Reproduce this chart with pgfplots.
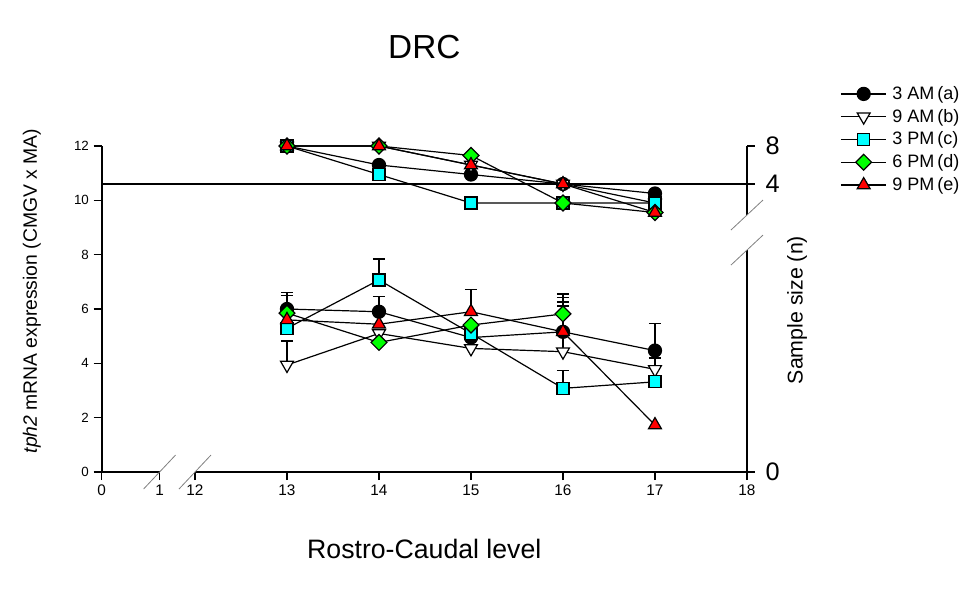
\documentclass[border=0pt]{standalone}
\usepackage{fontspec}
\setmainfont{Liberation Sans}
\usepackage{pgfplots}
\usepackage{pgfplotstable}
\pgfplotsset{compat=1.18}

\definecolor{pmCyan}{RGB}{0,255,255}
\definecolor{sixGreen}{RGB}{0,255,0}
\definecolor{nineRed}{RGB}{255,0,0}

% mean tph2 expression (left axis) and upward SEM
\pgfplotstableread{
x  a    ae   b    be   c    ce   d    de   e    ee
13 6.00 0.60 3.94 0.88 5.29 0    5.85 0.66 5.60 0.90
14 5.90 0.55 5.10 0    7.07 0.77 4.77 0    5.44 0
15 4.95 0    4.55 0    5.10 0    5.41 0    5.90 0.82
16 5.16 1.10 4.43 1.68 3.08 0.67 5.82 0.73 5.16 1.27
17 4.47 1.00 3.78 0.42 3.32 0    nan  0    1.73 0
}\means

% sample size n (right axis)
\pgfplotstableread{
x  a b c d e
13 8 8 8 8 8
14 6 8 5 8 8
15 5 6 2 7 6
16 4 4 2 2 4
17 3 2 2 1 1
}\nsize

\pgfplotsset{
  ser/.style={black,line width=0.9pt,mark options={solid,draw=black,line width=0.7pt}},
  sA/.style={ser,mark=*,mark size=4.9pt,mark options={fill=black}},
  sB/.style={ser,mark=triangle*,mark size=5.6pt,mark options={fill=white,rotate=180}},
  sC/.style={ser,mark=square*,mark size=4.5pt,mark options={fill=pmCyan}},
  sD/.style={ser,mark=square*,mark size=4.2pt,mark options={fill=sixGreen,rotate=45}},
  sE/.style={ser,mark=triangle*,mark size=5.6pt,mark options={fill=nineRed}},
  ebar/.style={only marks,mark=none,forget plot,
    error bars/.cd,y dir=plus,y explicit,
    error bar style={black,line width=0.9pt,solid},
    error mark options={black,mark size=4.5pt,line width=0.9pt,rotate=90}},
}

\begin{document}
\begin{tikzpicture}
\begin{axis}[name=main,scale only axis,width=484pt,height=244.5pt,
  xmin=10.985,xmax=18,ymin=0,ymax=12,clip=false,
  axis x line*=bottom,axis y line*=left,axis line style={draw=none},
  xtick={10.985,11.615,12,13,14,15,16,17,18},
  xticklabels={0,1,12,13,14,15,16,17,18},
  ytick={0,2,...,12},
  tick align=outside,major tick length=6pt,tick style={black,line width=1pt},
  xticklabel style={font=\fontsize{11.5}{13}\selectfont},
  yticklabel style={font=\fontsize{10}{12}\selectfont,/pgf/number format/assume math mode=true},
  title={DRC},
  title style={at={(axis description cs:0.5,1.279)},anchor=center,font=\fontsize{25}{30}\selectfont},
  xlabel={Rostro-Caudal level},
  xlabel style={at={(axis description cs:0.5,-0.236)},anchor=center,font=\fontsize{20}{24}\selectfont},
  ylabel={\textit{tph2} mRNA expression (CMGV x MA)},
  ylabel style={at={(axis description cs:-0.108,0.555)},anchor=center,font=\fontsize{14.5}{17}\selectfont},
  legend style={at={(1.138,1.196)},anchor=north west,draw=none,fill=none,
    font=\fontsize{13.5}{16}\selectfont,row sep=3.8pt,column sep=3pt,nodes={inner sep=1pt}},
  legend cell align=left,
  legend image code/.code={\draw[mark repeat=2,mark phase=2] plot coordinates {(0cm,0cm) (0.6cm,0cm) (1.2cm,0cm)};},
]
% broken axis lines
\draw[line width=1.4pt] (axis cs:10.985,0) -- (axis cs:10.985,12);
\draw[line width=1.4pt] (axis cs:10.985,0) -- (axis cs:11.615,0);
\draw[line width=1.4pt] (axis cs:12,0) -- (axis cs:18,0);
\draw[line width=1.4pt] (axis cs:18,0) -- (axis cs:18,8.17);
\draw[line width=1.4pt] (axis cs:18,9.46) -- (axis cs:18,12);
\draw[line width=1.4pt] (axis cs:10.985,10.6) -- (axis cs:18,10.6);
\draw[gray,line width=0.6pt] (axis cs:11.441,-0.626) -- (axis cs:11.789,0.626);
\draw[gray,line width=0.6pt] (axis cs:11.826,-0.626) -- (axis cs:12.174,0.626);
\draw[gray,line width=0.6pt] (axis cs:17.826,7.618) -- (axis cs:18.174,8.722);
\draw[gray,line width=0.6pt] (axis cs:17.826,8.908) -- (axis cs:18.174,10.012);

\addplot[restrict expr to domain={\thisrow{ae}}{0.01:10},ebar] table[x=x,y=a,y error=ae] {\means};
\addplot[restrict expr to domain={\thisrow{be}}{0.01:10},ebar] table[x=x,y=b,y error=be] {\means};
\addplot[restrict expr to domain={\thisrow{ce}}{0.01:10},ebar] table[x=x,y=c,y error=ce] {\means};
\addplot[restrict expr to domain={\thisrow{de}}{0.01:10},ebar] table[x=x,y=d,y error=de] {\means};
\addplot[restrict expr to domain={\thisrow{ee}}{0.01:10},ebar] table[x=x,y=e,y error=ee] {\means};

\addplot[sA] table[x=x,y=a] {\means};
\addplot[sB] table[x=x,y=b] {\means};
\addplot[sC] table[x=x,y=c] {\means};
\addplot[sD] table[x=x,y=d] {\means};
\addplot[sE] table[x=x,y=e] {\means};
\legend{3 AM\,(a),9 AM\,(b),3 PM\,(c),6 PM\,(d),9 PM\,(e)}
\end{axis}

\begin{axis}[scale only axis,width=484pt,height=244.5pt,
  at={(main.south west)},anchor=south west,
  xmin=10.985,xmax=18,ymin=-26.32,ymax=8,clip=false,
  axis x line=none,axis y line*=right,axis line style={draw=none},
  ytick={-26.32,4,8},yticklabels={0,4,8},
  tick align=outside,major tick length=6pt,tick style={black,line width=1pt},
  yticklabel style={font=\fontsize{19}{22}\selectfont,xshift=4.5pt},
  ylabel={Sample size (n)},
  ylabel style={at={(axis description cs:1.0775,0.497)},anchor=center,font=\fontsize{16}{19}\selectfont},
]
\addplot[sA] table[x=x,y=a] {\nsize};
\addplot[sB] table[x=x,y=b] {\nsize};
\addplot[sC] table[x=x,y=c] {\nsize};
\addplot[sD] table[x=x,y=d] {\nsize};
\addplot[sE] table[x=x,y=e] {\nsize};
\end{axis}

\pgfresetboundingbox
\path[use as bounding box] ([xshift=-76.2pt,yshift=-99pt]main.south west) rectangle ([xshift=169.5pt,yshift=109.5pt]main.north east);
\end{tikzpicture}
\end{document}
